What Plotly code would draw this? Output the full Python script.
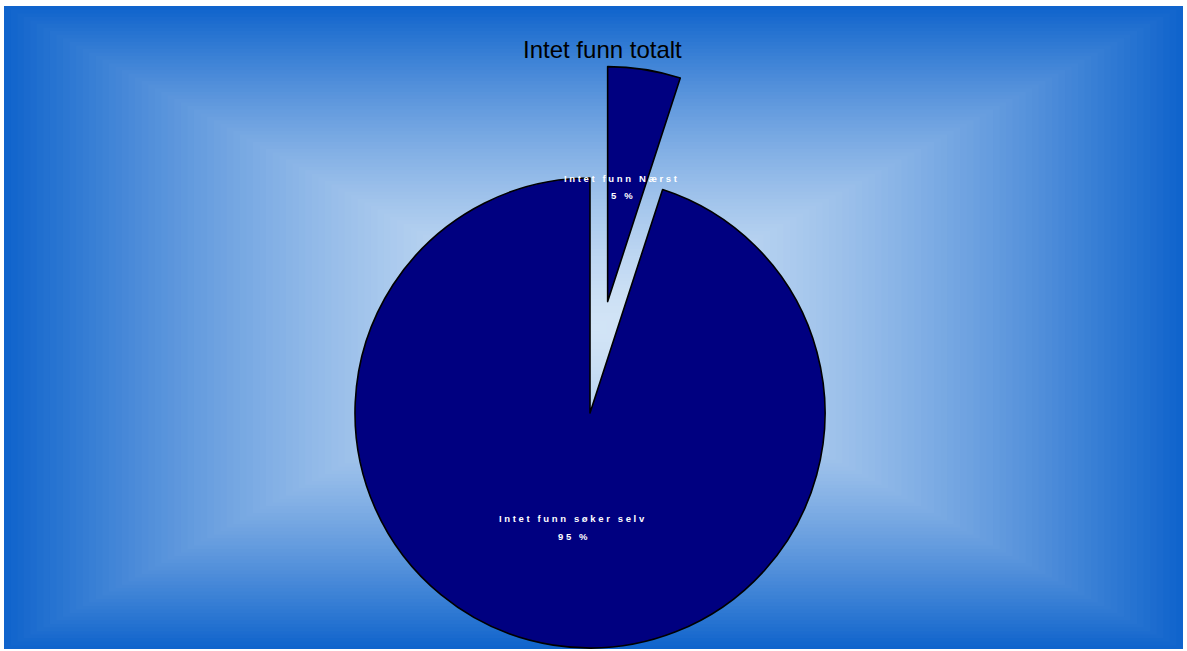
import math
import plotly.graph_objects as go

# ---- data ----
categories = ["Intet funn Nærst", "Intet funn søker selv"]
shares = [5, 95]
title_text = "Intet funn totalt"

# ---- styling ----
W, H = 1187, 651
NAVY = "#000080"
CLEAR = "rgba(0,0,0,0)"
EDGE = (16, 100, 204)       # outer colour of the backdrop
CORE = (210, 228, 246)      # inner colour of the backdrop
PANEL = (4, 6, 1183, 649)   # backdrop rectangle in pixels (x0, y0, x1, y1)

PIE_CX, PIE_CY, PIE_R = 590, 413, 235   # pie centre / radius in pixels
PULL = 0.48                              # explode distance as a fraction of radius


def px_x(x):
    return x / W


def px_y(y):
    return 1 - y / H


def spaced(s):
    """Letter-spaced version of a label."""
    return "\u00a0".join("\u00a0" if ch == " " else ch for ch in s)


# rectangular "from centre" gradient built from nested rectangles
shapes = []
x0, y0, x1, y1 = PANEL
cx, cy = (x0 + x1) / 2, (y0 + y1) / 2
hw, hh = (x1 - x0) / 2, (y1 - y0) / 2
steps = 90
for i in range(steps, 0, -1):
    t = i / steps
    k = t ** 1.5
    col = tuple(round(CORE[j] + (EDGE[j] - CORE[j]) * k) for j in range(3))
    shapes.append(dict(
        type="rect", xref="paper", yref="paper", layer="below",
        x0=px_x(cx - t * hw), x1=px_x(cx + t * hw),
        y0=px_y(cy + t * hh), y1=px_y(cy - t * hh),
        fillcolor="rgb(%d,%d,%d)" % col, line=dict(width=0),
    ))


def domain_for(center_x, center_y, r):
    return dict(x=[px_x(center_x - r), px_x(center_x + r)],
                y=[px_y(center_y + r), px_y(center_y - r)])


fig = go.Figure()

# main body of the pie (the small slice left empty)
fig.add_trace(go.Pie(
    labels=categories, values=shares, sort=False, direction="clockwise",
    rotation=0, textinfo="none", hoverinfo="label+percent", showlegend=False,
    marker=dict(colors=[CLEAR, NAVY],
                line=dict(color=["rgba(0,0,0,0)", "black"], width=[0, 1.6])),
    domain=domain_for(PIE_CX, PIE_CY, PIE_R),
))

# exploded small slice, shifted outwards along its mid-angle
mid = math.radians(360 * shares[0] / sum(shares) / 2)
d = PULL * PIE_R
ex_cx = PIE_CX + d * math.sin(mid)
ex_cy = PIE_CY - d * math.cos(mid)
fig.add_trace(go.Pie(
    labels=categories, values=shares, sort=False, direction="clockwise",
    rotation=0, textinfo="none", hoverinfo="label+percent", showlegend=False,
    marker=dict(colors=[NAVY, CLEAR],
                line=dict(color=["black", "rgba(0,0,0,0)"], width=[1.6, 0])),
    domain=domain_for(ex_cx, ex_cy, PIE_R),
))

label_font = dict(family="Liberation Sans, Arial, sans-serif", size=9.5,
                  color="white", weight="bold")
label_pos = [(621, 178), (572, 518)]
annotations = [dict(
    text=title_text, x=px_x(603), y=px_y(50), xref="paper", yref="paper",
    showarrow=False, xanchor="center", yanchor="middle",
    font=dict(family="Liberation Sans, Arial, sans-serif", size=24, color="black"),
)]
for name, val, (lx, ly) in zip(categories, shares, label_pos):
    annotations.append(dict(
        text=spaced(name), x=px_x(lx), y=px_y(ly), xref="paper", yref="paper",
        showarrow=False, xanchor="center", yanchor="middle", font=label_font))
    annotations.append(dict(
        text=spaced(f"{val} %"), x=px_x(lx + 1), y=px_y(ly + 18),
        xref="paper", yref="paper", showarrow=False,
        xanchor="center", yanchor="middle", font=label_font))

fig.update_layout(
    width=W, height=H, autosize=False,
    margin=dict(l=0, r=0, t=0, b=0),
    paper_bgcolor="white", plot_bgcolor="white",
    shapes=shapes, annotations=annotations,
)

fig.write_html("out.html")
